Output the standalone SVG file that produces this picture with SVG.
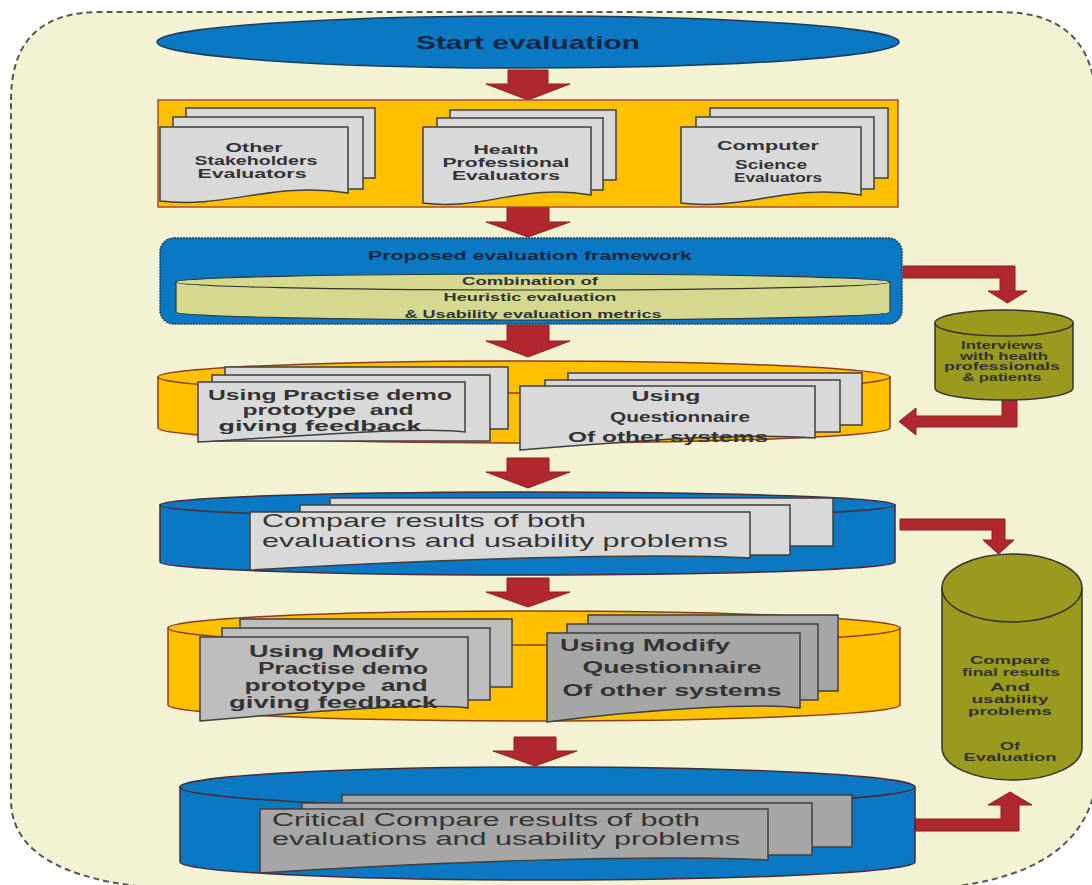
<svg xmlns="http://www.w3.org/2000/svg" width="1092" height="885" viewBox="0 0 1092 885">
<style>
text{font-family:"Liberation Sans",Arial,sans-serif;fill:#333;white-space:pre;}
.b{font-weight:bold;}
.arrow{fill:#B0282D;stroke:#8B1E22;stroke-width:1;}
.page{fill:#D9D9D9;stroke:#3F3F3F;stroke-width:1.5;}
.pageM{fill:#BDBDBD;stroke:#3F3F3F;stroke-width:1.5;}
.pageD{fill:#A6A6A6;stroke:#3F3F3F;stroke-width:1.5;}
.orange{fill:#FFC000;stroke:#8A4020;stroke-width:1.5;}
.blue{fill:#0A78C2;stroke:#4A2A35;stroke-width:1.5;}
.olive{fill:#9A9A1E;stroke:#333;stroke-width:1.5;}
</style>
<path d="M11,100 Q11,12 100,12 L1000,12 Q1092,12 1096,100 L1098,760 C1098,840 1040,888 900,890 L200,890 C60,888 11,850 11,800 Z" fill="#F3F3D3" stroke="#555" stroke-width="2" stroke-dasharray="6 4"/>

<g id="connectors">
<polygon class="arrow" points="508,70 548,70 548,84 570,84 528,100 486,84 508,84"/>
<polygon class="arrow" points="507,207 549,207 549,222 570,222 528,237 486,222 507,222"/>
<polygon class="arrow" points="507,325 549,325 549,341 570,341 528,357 486,341 507,341"/>
<polygon class="arrow" points="507,458 549,458 549,472 570,472 528,488 486,472 507,472"/>
<polygon class="arrow" points="507,578 549,578 549,592 570,592 528,607 486,592 507,592"/>
<polygon class="arrow" points="514,737 556,737 556,751 577,751 535,766 493,751 514,751"/>
<polygon class="arrow" points="903,266 1015,266 1015,291 1027,291 1007.5,303 988,291 1000,291 1000,278 903,278"/>
<polygon class="arrow" points="1002,400 1017,400 1017,427 916,427 916,435 899,421.5 916,408 916,416 1002,416"/>
<polygon class="arrow" points="900,519 1005,519 1005,540 1014,540 998.5,554 983,540 992,540 992,530 900,530"/>
<polygon class="arrow" points="915,819 1001,819 1001,805 988,805 1010,792 1032,805 1019,805 1019,831 915,831"/>
</g>

<g id="start">
<ellipse cx="528" cy="42" rx="371" ry="26" fill="#0A78C2" stroke="#1F3A5A" stroke-width="1.5"/>
<text class="b" x="528" y="49" font-size="19" text-anchor="middle" textLength="224" lengthAdjust="spacingAndGlyphs" style="fill:#1A2740">Start evaluation</text>
</g>

<g id="evaluators">
<rect x="158" y="100" width="740" height="107" fill="#FFC000" stroke="#A0522D" stroke-width="1.5"/>
<rect class="page" x="186" y="108" width="189" height="70"/>
<rect class="page" x="173" y="117" width="190" height="72"/>
<path class="page" d="M160,127 H348 V193 C273,181 226,209 160,201 Z"/>
<text class="b" font-size="13" x="254" y="152" text-anchor="middle" textLength="57" lengthAdjust="spacingAndGlyphs">Other</text>
<text class="b" font-size="13" x="256" y="165" text-anchor="middle" textLength="123" lengthAdjust="spacingAndGlyphs">Stakeholders</text>
<text class="b" font-size="13" x="252" y="178" text-anchor="middle" textLength="109" lengthAdjust="spacingAndGlyphs">Evaluators</text>

<rect class="page" x="450" y="110" width="166" height="70"/>
<rect class="page" x="437" y="118" width="166" height="72"/>
<path class="page" d="M423,127 H591 V195 C524,183 482,211 423,203 Z"/>
<text class="b" font-size="13" x="506" y="154" text-anchor="middle" textLength="65" lengthAdjust="spacingAndGlyphs">Health</text>
<text class="b" font-size="13" x="506" y="167" text-anchor="middle" textLength="127" lengthAdjust="spacingAndGlyphs">Professional</text>
<text class="b" font-size="13" x="506" y="180" text-anchor="middle" textLength="108" lengthAdjust="spacingAndGlyphs">Evaluators</text>

<rect class="page" x="710" y="108" width="178" height="70"/>
<rect class="page" x="696" y="117" width="178" height="72"/>
<path class="page" d="M681,127 H861 V195 C789,183 744,211 681,203 Z"/>
<text class="b" font-size="13" x="768" y="150" text-anchor="middle" textLength="102" lengthAdjust="spacingAndGlyphs">Computer</text>
<text class="b" font-size="13" x="771" y="169" text-anchor="middle" textLength="72" lengthAdjust="spacingAndGlyphs">Science</text>
<text class="b" font-size="13" x="778" y="182" text-anchor="middle" textLength="88" lengthAdjust="spacingAndGlyphs">Evaluators</text>
</g>

<g id="framework">
<rect x="160" y="238" width="742" height="86" rx="14" fill="#0A78C2" stroke="#1F3A5A" stroke-width="1.5" stroke-dasharray="2 1"/>
<text class="b" font-size="12" x="530" y="260" text-anchor="middle" textLength="324" lengthAdjust="spacingAndGlyphs" style="fill:#1A2740">Proposed evaluation framework</text>
<path d="M176,282 V312 A357,8 0 0 0 890,312 V282 Z" fill="#D4D98F" stroke="#333" stroke-width="1.2"/>
<ellipse cx="533" cy="282" rx="357" ry="8" fill="#D4D98F" stroke="#333" stroke-width="1.2"/>
<text class="b" font-size="11" x="530" y="285" text-anchor="middle" textLength="136" lengthAdjust="spacingAndGlyphs">Combination of</text>
<text class="b" font-size="11" x="530" y="301" text-anchor="middle" textLength="173" lengthAdjust="spacingAndGlyphs">Heuristic evaluation</text>
<text class="b" font-size="11" x="533" y="318" text-anchor="middle" textLength="257" lengthAdjust="spacingAndGlyphs">&amp; Usability evaluation metrics</text>
</g>

<g id="interviews">
<path class="olive" d="M935,323 V388 A69,12 0 0 0 1073,388 V323 Z"/>
<ellipse class="olive" cx="1004" cy="323" rx="69" ry="13"/>
<text class="b" font-size="10" x="1002" y="349" text-anchor="middle" textLength="82" lengthAdjust="spacingAndGlyphs">Interviews</text>
<text class="b" font-size="10" x="1004" y="360" text-anchor="middle" textLength="88" lengthAdjust="spacingAndGlyphs">with health</text>
<text class="b" font-size="10" x="1002" y="370" text-anchor="middle" textLength="116" lengthAdjust="spacingAndGlyphs">professionals</text>
<text class="b" font-size="10" x="1002" y="381" text-anchor="middle" textLength="79" lengthAdjust="spacingAndGlyphs">&amp; patients</text>
</g>

<g id="practise">
<path class="orange" d="M158,377 V428 A366,15 0 0 0 890,428 V377 Z"/>
<ellipse class="orange" cx="524" cy="377" rx="366" ry="16"/>
<rect class="page" x="225" y="367" width="283" height="62"/>
<rect class="page" x="212" y="375" width="278" height="66"/>
<path class="page" d="M198,382 H465 V432 C425,426 300,436 198,442 Z"/>
<text class="b" font-size="15" x="330" y="400" text-anchor="middle" textLength="244" lengthAdjust="spacingAndGlyphs">Using Practise demo</text>
<text class="b" font-size="15" x="328" y="415" text-anchor="middle" textLength="171" lengthAdjust="spacingAndGlyphs">prototype  and</text>
<text class="b" font-size="15" x="320" y="431" text-anchor="middle" textLength="203" lengthAdjust="spacingAndGlyphs">giving feedback</text>
<rect class="page" x="568" y="373" width="294" height="52"/>
<rect class="page" x="545" y="380" width="295" height="52"/>
<path class="page" d="M520,386 H815 V438 C740,432 620,442 520,450 Z"/>
<text class="b" font-size="15" x="666" y="401" text-anchor="middle" textLength="69" lengthAdjust="spacingAndGlyphs">Using</text>
<text class="b" font-size="15" x="680" y="422" text-anchor="middle" textLength="140" lengthAdjust="spacingAndGlyphs">Questionnaire</text>
<text class="b" font-size="15" x="668" y="442" text-anchor="middle" textLength="200" lengthAdjust="spacingAndGlyphs">Of other systems</text>
</g>

<g id="compare">
<path class="blue" d="M160,505 V562 A367.5,13 0 0 0 895,562 V505 Z"/>
<ellipse class="blue" cx="527.5" cy="505" rx="367.5" ry="13"/>
<rect class="page" x="330" y="498" width="503" height="48"/>
<rect class="page" x="300" y="505" width="490" height="50"/>
<path class="page" d="M250,512 H750 V558 C650,552 420,560 250,570 Z"/>
<text font-size="19" x="262" y="527" textLength="324" lengthAdjust="spacingAndGlyphs">Compare results of both</text>
<text font-size="19" x="262" y="547" textLength="466" lengthAdjust="spacingAndGlyphs">evaluations and usability problems</text>
</g>

<g id="final">
<path class="olive" d="M942,588 V748 A70,32 0 0 0 1082,748 V588 Z"/>
<ellipse class="olive" cx="1012" cy="588" rx="70" ry="34"/>
<text class="b" font-size="11" x="1010" y="664" text-anchor="middle" textLength="80" lengthAdjust="spacingAndGlyphs">Compare</text>
<text class="b" font-size="11" x="1011" y="676" text-anchor="middle" textLength="98" lengthAdjust="spacingAndGlyphs">final results</text>
<text class="b" font-size="11" x="1010" y="691" text-anchor="middle" textLength="40" lengthAdjust="spacingAndGlyphs">And</text>
<text class="b" font-size="11" x="1010" y="703" text-anchor="middle" textLength="77" lengthAdjust="spacingAndGlyphs">usability</text>
<text class="b" font-size="11" x="1010" y="715" text-anchor="middle" textLength="84" lengthAdjust="spacingAndGlyphs">problems</text>
<text class="b" font-size="11" x="1010" y="750" text-anchor="middle" textLength="20" lengthAdjust="spacingAndGlyphs">Of</text>
<text class="b" font-size="11" x="1010" y="761" text-anchor="middle" textLength="93" lengthAdjust="spacingAndGlyphs">Evaluation</text>
</g>

<g id="modify">
<path class="orange" d="M168,628 V705 A366,16 0 0 0 900,705 V628 Z"/>
<ellipse class="orange" cx="534" cy="628" rx="366" ry="17"/>
<rect class="pageM" x="240" y="619" width="272" height="68"/>
<rect class="pageM" x="222" y="628" width="268" height="72"/>
<path class="pageM" d="M200,637 H468 V708 C430,702 300,712 200,721 Z"/>
<text class="b" font-size="16" x="334" y="657" text-anchor="middle" textLength="170" lengthAdjust="spacingAndGlyphs">Using Modify</text>
<text class="b" font-size="16" x="343" y="674" text-anchor="middle" textLength="170" lengthAdjust="spacingAndGlyphs">Practise demo</text>
<text class="b" font-size="16" x="336" y="691" text-anchor="middle" textLength="183" lengthAdjust="spacingAndGlyphs">prototype  and</text>
<text class="b" font-size="16" x="333" y="708" text-anchor="middle" textLength="208" lengthAdjust="spacingAndGlyphs">giving feedback</text>
<rect class="pageD" x="588" y="615" width="250" height="76"/>
<rect class="pageD" x="567" y="624" width="251" height="76"/>
<path class="pageD" d="M547,633 H800 V708 C760,702 640,710 547,722 Z"/>
<text class="b" font-size="16" x="560" y="651" textLength="170" lengthAdjust="spacingAndGlyphs">Using Modify</text>
<text class="b" font-size="16" x="672" y="673" text-anchor="middle" textLength="179" lengthAdjust="spacingAndGlyphs">Questionnaire</text>
<text class="b" font-size="16" x="672" y="696" text-anchor="middle" textLength="219" lengthAdjust="spacingAndGlyphs">Of other systems</text>
</g>

<g id="critical">
<path class="blue" d="M180,787 V862 A367.5,18 0 0 0 915,862 V787 Z"/>
<ellipse class="blue" cx="547.5" cy="787" rx="367.5" ry="20"/>
<rect class="pageD" x="342" y="795" width="510" height="52"/>
<rect class="pageD" x="302" y="803" width="510" height="52"/>
<path class="pageD" d="M260,809 H768 V860 C660,854 430,862 260,873 Z"/>
<text font-size="19" x="272" y="826" textLength="428" lengthAdjust="spacingAndGlyphs">Critical Compare results of both</text>
<text font-size="19" x="272" y="845" textLength="468" lengthAdjust="spacingAndGlyphs">evaluations and usability problems</text>
</g>
</svg>
